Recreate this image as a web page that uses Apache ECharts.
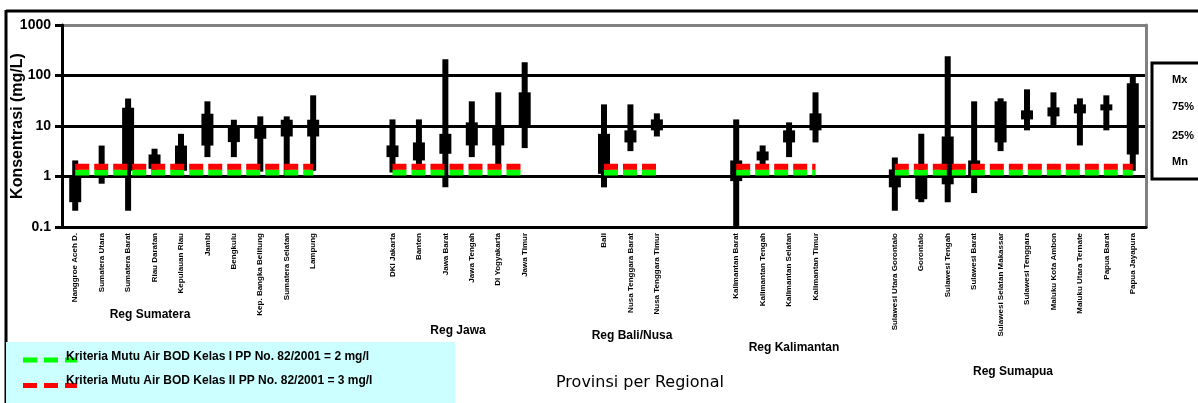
<!DOCTYPE html>
<html>
<head>
<meta charset="utf-8">
<script src="https://cdn.jsdelivr.net/npm/echarts@6/dist/echarts.min.js"></script>
<style>
  html, body { margin: 0; padding: 0; background: #fff; }
  #chart { width: 1198px; height: 403px; }
</style>
</head>
<body>
<div id="chart"></div>
<script>
// Province names per region (two empty slots separate the regions)
const sumatera = ['Nanggroe Aceh D.', 'Sumatera Utara', 'Sumatera Barat', 'Riau Daratan', 'Kepulauan Riau',
  'Jambi', 'Bengkulu', 'Kep. Bangka Belitung', 'Sumatera Selatan', 'Lampung'];
const jawa = ['DKI Jakarta', 'Banten', 'Jawa Barat', 'Jawa Tengah', 'DI Yogyakarta', 'Jawa Timur'];
const baliNusa = ['Bali', 'Nusa Tenggara Barat', 'Nusa Tenggara Timur'];
const kalimantan = ['Kalimantan Barat', 'Kalimantan Tengah', 'Kalimantan Selatan', 'Kalimantan Timur'];
const sumapua = ['Sulawesi Utara Gorontalo', 'Gorontalo', 'Sulawesi Tengah', 'Sulawesi Barat',
  'Sulawesi Selatan Makassar', 'Sulawesi Tenggara', 'Maluku Kota Ambon', 'Maluku Utara Ternate',
  'Papua Barat', 'Papua Jayapura'];
const regionNames = ['Reg Sumatera', 'Reg Jawa', 'Reg Bali/Nusa', 'Reg Kalimantan', 'Reg Sumapua'];

const gap = ['', ''];
const categories = [...sumatera, ...gap, ...jawa, ...gap, ...baliNusa, ...gap, ...kalimantan, ...gap, ...sumapua];

// BOD concentration statistics (mg/L) per slot; null = empty slot between regions
const minVals = [0.21, 0.72, 0.21, 1.05, 1.1, 2.42, 2.42, 1.25, 1.05, 1.3, null, null,
  1.2, 1.2, 0.61, 2.42, 1.5, 3.65, null, null,
  0.61, 3.18, 6.2, null, null,
  0.1, 1.6, 2.42, 4.73, null, null,
  0.21, 0.31, 0.31, 0.47, 3.18, 8.2, 9.8, 4.12, 8.2, 1.3];
const q1Vals = [0.31, 1.1, 1.3, 1.42, 1.3, 4.1, 4.8, 5.6, 6.2, 6.2, null, null,
  2.42, 2.08, 2.82, 4.12, 4.12, 9.8, null, null,
  1.13, 4.73, 8.2, null, null,
  0.81, 2.08, 4.73, 8.2, null, null,
  0.61, 0.355, 0.7, 1.05, 4.73, 13.5, 15.5, 17.8, 20.4, 2.73];
const q3Vals = [1.05, 1.5, 23, 2.73, 4.1, 17.5, 9.5, 9.8, 13.3, 13.3, null, null,
  4.12, 4.73, 7.0, 11.8, 9.8, 46.4, null, null,
  7.0, 8.2, 13.5, null, null,
  2.08, 3.13, 8.2, 17.8, null, null,
  1.38, 1.3, 6.2, 2.08, 30.8, 20.4, 23.4, 26.8, 26.8, 70];
const maxVals = [2.08, 4.1, 35, 3.55, 7.0, 30.8, 13.3, 15.5, 15.5, 40.5, null, null,
  13.5, 13.5, 210, 30.8, 46.4, 183, null, null,
  26.8, 26.8, 17.8, null, null,
  13.5, 4.12, 11.8, 46.4, null, null,
  2.38, 7.03, 240, 30.8, 35.3, 53.2, 46.4, 35.3, 40.5, 96];

// Quality criteria lines (drawn level) and their legend texts
const kelas1Level = 1.2;
const kelas2Level = 1.56;
const kelas1Name = 'Kriteria Mutu Air BOD Kelas I PP No. 82/2001 = 2 mg/l';
const kelas2Name = 'Kriteria Mutu Air BOD Kelas II PP No. 82/2001 = 3 mg/l';
const yTicks = ['0.1', '1', '10', '100', '1000'];
const statLegend = ['Mx', '75%', '25%', 'Mn'];

const boxData = [];
categories.forEach((c, i) => {
  if (minVals[i] != null) boxData.push([i, minVals[i], q1Vals[i], q3Vals[i], maxVals[i]]);
});
const lineData = level => categories.map(c => (c ? level : '-'));

function renderRange(params, api) {
  const i = api.value(0);
  const lo = api.coord([i, api.value(1)]);
  const q1 = api.coord([i, api.value(2)]);
  const q3 = api.coord([i, api.value(3)]);
  const hi = api.coord([i, api.value(4)]);
  return {
    type: 'group',
    children: [
      { type: 'rect', shape: { x: lo[0] - 3, y: hi[1], width: 6, height: lo[1] - hi[1] }, style: { fill: '#000' } },
      { type: 'rect', shape: { x: q1[0] - 6, y: q3[1], width: 12, height: q1[1] - q3[1] }, style: { fill: '#000' } }
    ]
  };
}

const boldFont = 'Liberation Sans, Arial, sans-serif';
const graphics = [
  // outer frame
  { type: 'line', shape: { x1: 6, y1: 11, x2: 1198, y2: 11 }, style: { stroke: '#000', lineWidth: 3 }, z: 1 },
  { type: 'line', shape: { x1: 6, y1: 10, x2: 6, y2: 403 }, style: { stroke: '#000', lineWidth: 3 }, z: 1 },
  // statistics key box on the right
  { type: 'rect', shape: { x: 1152, y: 63, width: 60, height: 116 }, style: { fill: '#fff', stroke: '#000', lineWidth: 3 }, z: 5 },
  // criteria legend box
  { type: 'rect', shape: { x: 6, y: 342, width: 449, height: 62 }, style: { fill: '#ccffff' }, z: 5 },
  { type: 'line', shape: { x1: 23, y1: 360, x2: 77, y2: 360 }, style: { stroke: '#00ff00', lineWidth: 5, lineDash: [14, 7] }, z: 6 },
  { type: 'line', shape: { x1: 23, y1: 385.5, x2: 77, y2: 385.5 }, style: { stroke: '#ff0000', lineWidth: 5, lineDash: [14, 7] }, z: 6 },
  { type: 'text', x: 66, y: 357, style: { text: kelas1Name, font: 'bold 12px ' + boldFont, fill: '#000', verticalAlign: 'middle' }, z: 7 },
  { type: 'text', x: 66, y: 381, style: { text: kelas2Name, font: 'bold 12px ' + boldFont, fill: '#000', verticalAlign: 'middle' }, z: 7 },
  // axis title
  { type: 'text', x: 640, y: 383, style: { text: 'Provinsi per Regional', font: '16px DejaVu Sans, sans-serif', fill: '#000', align: 'center', verticalAlign: 'middle' }, z: 5 }
];
statLegend.forEach((t, k) => {
  graphics.push({ type: 'text', x: 1172, y: [80, 107, 136, 162][k],
    style: { text: t, font: 'bold 11px ' + boldFont, fill: '#000', verticalAlign: 'middle' }, z: 6 });
});
const regionPos = [[150, 315], [458, 331], [632, 336], [794, 348], [1013, 372]];
regionNames.forEach((t, k) => {
  graphics.push({ type: 'text', x: regionPos[k][0], y: regionPos[k][1],
    style: { text: t, font: 'bold 12px ' + boldFont, fill: '#000', align: 'center', verticalAlign: 'middle' }, z: 5 });
});

const chart = echarts.init(document.getElementById('chart'), null, { renderer: 'canvas' });
chart.setOption({
  animation: false,
  backgroundColor: '#fff',
  grid: { left: 62, right: 52, top: 25, bottom: 176, containLabel: false, outerBoundsMode: 'none' },
  xAxis: {
    type: 'category',
    data: categories,
    boundaryGap: true,
    axisLine: { lineStyle: { color: '#000', width: 3 } },
    axisTick: { interval: 0, length: 4, lineStyle: { color: '#000', width: 2 } },
    axisLabel: { interval: 0, rotate: 90, margin: 6, fontSize: 8, fontWeight: 'bold', fontFamily: boldFont, color: '#000' },
    splitLine: { show: false }
  },
  yAxis: [{
    type: 'log',
    logBase: 10,
    min: 0.1,
    max: 1000,
    name: 'Konsentrasi (mg/L)',
    nameLocation: 'middle',
    nameRotate: 90,
    nameGap: 36,
    nameMoveOverlap: false,
    nameTextStyle: { fontSize: 16, fontWeight: 'bold', fontFamily: boldFont, color: '#000' },
    axisLine: { show: true, lineStyle: { color: '#000', width: 3 } },
    axisTick: { show: true, length: 7, lineStyle: { color: '#000', width: 3 } },
    axisLabel: { margin: 11, fontSize: 14, fontWeight: 'bold', fontFamily: boldFont, color: '#000',
      formatter: v => yTicks.find(t => Math.abs(parseFloat(t) - v) < 1e-6 * Math.max(1, v)) || '' },
    splitLine: { show: true, lineStyle: { color: ['#000', '#000', '#000', '#000', '#808080'], width: 3 } }
  }, {
    type: 'log',
    logBase: 10,
    min: 0.1,
    max: 1000,
    position: 'right',
    axisLine: { show: true, lineStyle: { color: '#808080', width: 3 } },
    axisTick: { show: false },
    axisLabel: { show: false },
    splitLine: { show: false }
  }],
  series: [{
    type: 'custom',
    name: 'BOD',
    renderItem: renderRange,
    encode: { x: 0, y: [1, 2, 3, 4] },
    data: boxData,
    z: 2
  }, {
    type: 'line',
    name: kelas1Name,
    data: lineData(kelas1Level),
    symbol: 'none',
    lineStyle: { color: '#00ff00', width: 6, type: [14, 5], cap: 'butt' },
    z: 3
  }, {
    type: 'line',
    name: kelas2Name,
    data: lineData(kelas2Level),
    symbol: 'none',
    lineStyle: { color: '#ff0000', width: 6, type: [14, 5], cap: 'butt' },
    z: 3
  }],
  graphic: graphics
});
</script>
</body>
</html>
